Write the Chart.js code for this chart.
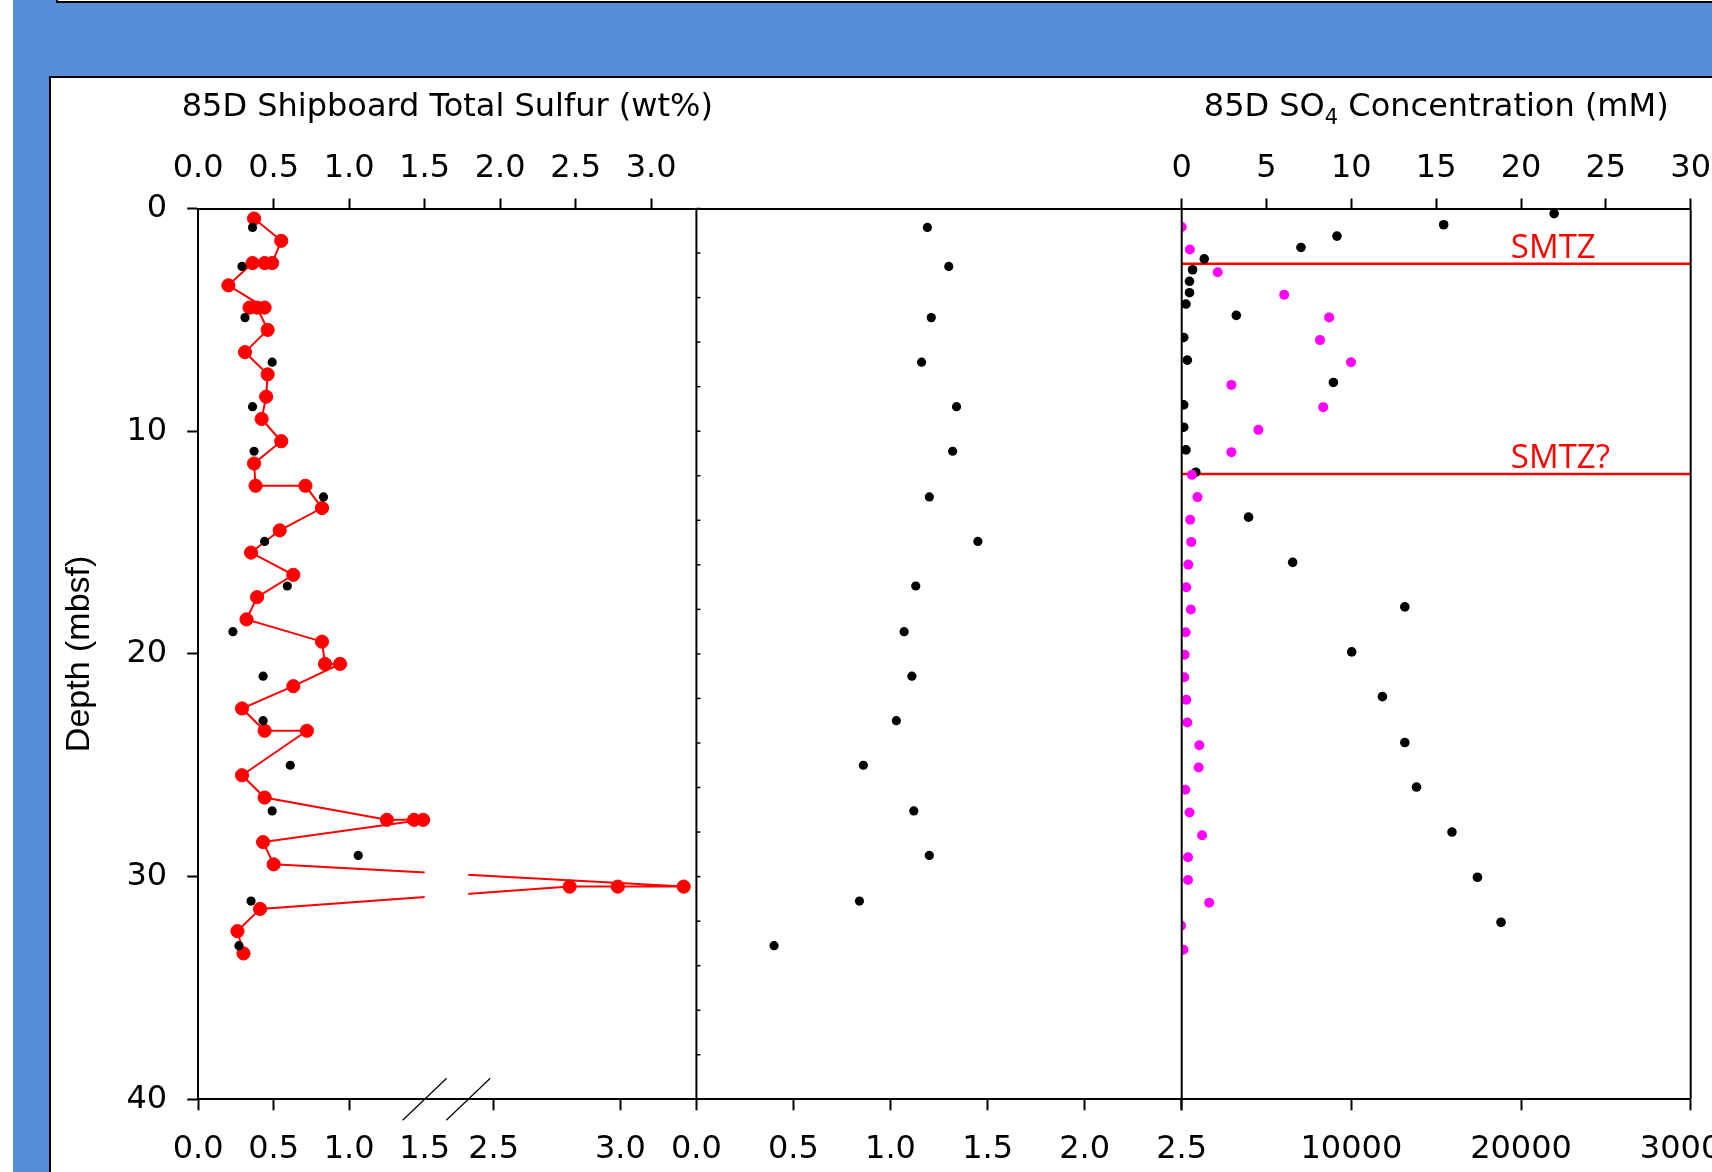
<!DOCTYPE html>
<html>
<head>
<meta charset="utf-8">
<title>85D sulfur and SO4 profiles</title>
<script src="https://cdn.jsdelivr.net/npm/chart.js@4.4.1/dist/chart.umd.min.js"></script>
<style>
  html, body { margin: 0; padding: 0; width: 1712px; height: 1172px; overflow: hidden; background: #578cd7; }
  #strip { position: absolute; left: 0; top: 0; width: 13px; height: 1172px; background: #fff; }
  #topbox { position: absolute; left: 56px; top: -20px; width: 1700px; height: 19px; background: #fff; border: 2px solid #000; }
  #panel { position: absolute; left: 49px; top: 76px; width: 1700px; height: 1200px; background: #fff; border-left: 2px solid #000; border-top: 2px solid #000; }
  #myChart { position: absolute; left: 0; top: 0; }
</style>
</head>
<body>
<div id="strip"></div>
<div id="topbox"></div>
<div id="panel"></div>
<canvas id="myChart" width="1712" height="1172"></canvas>
<script>
// depth of the discrete core samples (panel 1 black dots and panel 2)
const coreDepth = [0.85, 2.6, 4.9, 6.9, 8.9, 10.9, 12.95, 14.95, 16.95, 19.0, 21.0, 23.0, 25.0, 27.05, 29.05, 31.1, 33.1];
const sulfurWt  = [0.36, 0.29, 0.31, 0.49, 0.36, 0.37, 0.83, 0.44, 0.59, 0.23, 0.43, 0.43, 0.61, 0.49, 1.06, 0.35, 0.27];
const middleVal = [1.19, 1.30, 1.21, 1.16, 1.34, 1.32, 1.20, 1.45, 1.13, 1.07, 1.11, 1.03, 0.86, 1.12, 1.20, 0.84, 0.40];

// shipboard total sulfur (red line, broken bottom axis)
const shipDepth = [0.45, 1.45, 2.45, 2.45, 2.45, 3.45, 4.45, 4.45, 4.45, 5.45, 6.45, 7.45, 8.45, 9.45, 10.45, 11.45,
  12.45, 12.45, 13.45, 14.45, 15.45, 16.45, 17.45, 18.45, 19.45, 20.45, 20.45, 21.45, 22.45, 23.45, 23.45,
  25.45, 26.45, 27.45, 27.45, 27.45, 28.45, 29.45, 30.45, 30.45, 30.45, 31.45, 32.45, 33.45];
const shipWt = [0.37, 0.55, 0.49, 0.44, 0.36, 0.20, 0.44, 0.34, 0.39, 0.46, 0.31, 0.46, 0.45, 0.42, 0.55, 0.37,
  0.38, 0.71, 0.82, 0.54, 0.35, 0.63, 0.39, 0.32, 0.82, 0.84, 0.94, 0.63, 0.29, 0.44, 0.72,
  0.29, 0.44, 1.25, 1.43, 1.49, 0.43, 0.50, 3.25, 2.99, 2.80, 0.41, 0.26, 0.30];

// panel 3
const so4Depth = [0.23, 0.73, 1.24, 1.75, 2.26, 2.75, 3.27, 3.78, 4.29, 4.80, 5.79, 6.81, 7.81, 8.82, 9.82, 10.84, 11.84];
const so4mM    = [21.95, 15.44, 9.15, 7.03, 1.33, 0.64, 0.46, 0.46, 0.25, 3.22, 0.12, 0.33, 8.94, 0.12, 0.12, 0.25, 0.83];
const ch4Depth = [13.86, 15.89, 17.89, 19.91, 21.92, 23.98, 25.98, 28.0, 30.03, 32.05];
const ch4Val   = [3940, 6540, 13150, 10020, 11830, 13150, 13840, 15930, 17430, 18820];
const magDepth = [0.83, 1.84, 2.86, 3.87, 4.89, 5.91, 6.90, 7.92, 8.92, 9.94, 10.94, 11.96, 12.96, 13.98, 14.97, 15.99, 17.01,
  18.01, 19.03, 20.04, 21.05, 22.06, 23.08, 24.1, 25.1, 26.1, 27.12, 28.14, 29.13, 30.15, 31.17, 32.2, 33.28];
const magVal   = [0.0, 0.48, 2.12, 6.04, 8.69, 8.15, 9.98, 2.93, 8.34, 4.52, 2.93, 0.60, 0.93, 0.50, 0.56, 0.39, 0.27,
  0.54, 0.23, 0.17, 0.15, 0.27, 0.33, 1.04, 1.0, 0.21, 0.46, 1.2, 0.37, 0.37, 1.62, -0.04, 0.10];

const smtzDepth = [2.48, 11.92];
const smtzLabel = ['SMTZ', 'SMTZ?'];

// tick labels
const depthTicks = [0, 10, 20, 30, 40];
const sulfurTopTicks = [0, 0.5, 1, 1.5, 2, 2.5, 3];
const sulfurBottomTicks = [0, 0.5, 1, 1.5, 2.5, 3];
const middleTicks = [0, 0.5, 1, 1.5, 2, 2.5];
const so4Ticks = [0, 5, 10, 15, 20, 25, 30];
const ch4Ticks = [0, 10000, 20000, 30000];
// title pieces: odd pieces are subscripts
const panelTitles = [['85D Shipboard Total Sulfur (wt%)'], ['85D SO', '4', ' Concentration (mM)']];

const pts = (xs, ys) => xs.map((x, i) => ({x: x, y: ys[i]}));

// linear scale with a gap between breakLow and breakHigh
class BrokenScale extends Chart.LinearScale {
  toFrac(v) {
    const o = this.options;
    const f1 = (o.breakLow - this.min) / (this.max - this.min);
    const f2 = f1 + o.gapFrac;
    if (v <= o.breakLow) return (v - this.min) / (this.max - this.min);
    if (v >= o.breakHigh) return f2 + (v - o.breakHigh) / (this.max - o.breakHigh) * (1 - f2);
    return f1 + (v - o.breakLow) / (o.breakHigh - o.breakLow) * o.gapFrac;
  }
  getPixelForValue(v) {
    return v === null ? NaN : this.getPixelForDecimal(this.toFrac(v));
  }
  getValueForPixel(p) {
    const o = this.options;
    const f = this.getDecimalForPixel(p);
    const f1 = (o.breakLow - this.min) / (this.max - this.min);
    const f2 = f1 + o.gapFrac;
    if (f <= f1) return this.min + f * (this.max - this.min);
    if (f >= f2) return o.breakHigh + (f - f2) / (1 - f2) * (this.max - o.breakHigh);
    return o.breakLow + (f - f1) / o.gapFrac * (o.breakHigh - o.breakLow);
  }
}
BrokenScale.id = 'broken';
BrokenScale.defaults = Chart.LinearScale.defaults;
Chart.register(BrokenScale);

const black = '#000';
const tickFont = {family: 'DejaVu Sans', size: 32};
const TOP_H = 208.5, BOTTOM_H = 72.7;

function setTicks(list) {
  return s => { s.ticks = list.map(v => ({value: v})); };
}
function fitH(h) {
  return s => { s.height = h; s.paddingLeft = 0; s.paddingRight = 0; };
}
function xScale(pos, weight, width, min, max, tickList, fmt, hideAt) {
  return {
    type: 'linear', position: pos, stack: pos, stackWeight: width, weight: weight,
    min: min, max: max,
    afterBuildTicks: setTicks(tickList),
    afterFit: fitH(pos === 'top' ? TOP_H : BOTTOM_H),
    grid: {
      display: true, drawOnChartArea: false, drawTicks: true,
      tickLength: pos === 'top' ? 10 : 11, tickWidth: 2,
      tickColor: c => (c.tick && hideAt !== undefined && c.tick.value === hideAt) ? 'rgba(0,0,0,0)' : black
    },
    border: {display: true, color: black, width: 2},
    ticks: {
      font: tickFont, color: black, padding: pos === 'top' ? 10.8 : 20,
      maxRotation: 0, minRotation: 0, autoSkip: false, callback: fmt
    }
  };
}

const oneDec = v => v.toFixed(1);
const scales = {
  y: {
    type: 'linear', position: 'left', reverse: true, min: 0, max: 40,
    afterBuildTicks: setTicks(depthTicks),
    afterFit: s => { s.width = 198.2; },
    grid: {display: true, drawOnChartArea: false, tickLength: 11, tickWidth: 2, tickColor: black},
    border: {display: true, color: black, width: 2},
    ticks: {font: tickFont, color: black, padding: 20},
    title: {display: true, text: 'Depth (mbsf)', color: black,
      font: {family: 'Liberation Sans', size: 34}, padding: {top: 59, bottom: 0}}
  },
  x1t: xScale('top', 3, 498.2, 0, 3.3, sulfurTopTicks, oneDec, 0),
  x2t: {
    type: 'linear', position: 'top', stack: 'top', stackWeight: 485.3, weight: 2, min: 0, max: 2.5,
    afterFit: fitH(TOP_H),
    grid: {display: false}, ticks: {display: false},
    border: {display: true, color: black, width: 2}
  },
  x3t: xScale('top', 1, 509, 0, 30, so4Ticks, v => String(v)),
  x1b: Object.assign(xScale('bottom', 1, 498.2, 0, 3.3, sulfurBottomTicks, oneDec, 1.5),
    {type: 'broken', breakLow: 1.5, breakHigh: 2.4, gapFrac: 0.0875}),
  x2b: xScale('bottom', 2, 485.3, 0, 2.5, middleTicks, oneDec),
  x3b: xScale('bottom', 3, 509, 0, 30000, ch4Ticks, v => v === 0 ? '' : String(v))
};

const datasets = [
  {label: 'Shipboard total sulfur', data: pts(shipWt, shipDepth), xAxisID: 'x1b', yAxisID: 'y',
    showLine: true, borderColor: '#ff0000', borderWidth: 2, pointRadius: 0, order: 6, breakGap: true},
  {label: 'Shipboard total sulfur points', data: pts(shipWt, shipDepth), xAxisID: 'x1b', yAxisID: 'y',
    pointRadius: 6.6, pointBackgroundColor: '#ff0000', pointBorderColor: '#ff0000', pointBorderWidth: 1, order: 5},
  {label: 'Total sulfur', data: pts(sulfurWt, coreDepth), xAxisID: 'x1t', yAxisID: 'y',
    pointRadius: 4.6, pointBackgroundColor: black, pointBorderWidth: 0, order: 4},
  {label: 'Panel 2', data: pts(middleVal, coreDepth), xAxisID: 'x2b', yAxisID: 'y',
    pointRadius: 4.6, pointBackgroundColor: black, pointBorderWidth: 0, order: 4},
  {label: 'SO4', data: pts(so4mM, so4Depth), xAxisID: 'x3t', yAxisID: 'y',
    pointRadius: 4.8, pointBackgroundColor: black, pointBorderWidth: 0, order: 3},
  {label: 'CH4', data: pts(ch4Val, ch4Depth), xAxisID: 'x3b', yAxisID: 'y',
    pointRadius: 4.8, pointBackgroundColor: black, pointBorderWidth: 0, order: 3},
  {label: 'Magenta profile', data: pts(magVal, magDepth), xAxisID: 'x3t', yAxisID: 'y',
    pointRadius: 5, pointBackgroundColor: '#ff00ff', pointBorderWidth: 0, order: 2}
];
smtzDepth.forEach((d, i) => {
  datasets.push({label: smtzLabel[i], data: [{x: so4Ticks[0], y: d}, {x: so4Ticks[so4Ticks.length - 1], y: d}],
    xAxisID: 'x3t', yAxisID: 'y', showLine: true, borderColor: '#ff0000', borderWidth: 2.5, pointRadius: 0, order: 6});
});

function drawTitle(ctx, parts, cx, baseY) {
  const mainFont = '32px "DejaVu Sans"', subFont = '21px "DejaVu Sans"';
  let total = 0;
  parts.forEach((p, i) => { ctx.font = i % 2 ? subFont : mainFont; total += ctx.measureText(p).width; });
  let x = cx - total / 2;
  parts.forEach((p, i) => {
    ctx.font = i % 2 ? subFont : mainFont;
    ctx.fillText(p, x, i % 2 ? baseY + 8 : baseY);
    x += ctx.measureText(p).width;
  });
}

const decorations = {
  id: 'decorations',
  afterDatasetDraw(chart, args) {
    if (!chart.data.datasets[args.index].breakGap) return;
    const s = chart.scales.x1b, a = chart.chartArea, ctx = chart.ctx;
    const l = s.getPixelForValue(s.options.breakLow), r = s.getPixelForValue(s.options.breakHigh);
    ctx.save();
    ctx.fillStyle = '#fff';
    ctx.fillRect(l, a.top + 2, r - l, a.bottom - a.top - 4);
    ctx.restore();
  },
  afterDraw(chart) {
    const ctx = chart.ctx, a = chart.chartArea, sc = chart.scales;
    ctx.save();
    // panel frames
    ctx.strokeStyle = black;
    ctx.lineWidth = 2;
    [sc.x1b.right, sc.x2b.right, sc.x3b.right].forEach(x => {
      ctx.beginPath(); ctx.moveTo(x, a.top); ctx.lineTo(x, a.bottom); ctx.stroke();
    });
    // small ticks on the left side of panel 2
    ctx.lineWidth = 1.5;
    for (let d = 0; d <= 40; d += 2) {
      const yy = sc.y.getPixelForValue(d);
      ctx.beginPath(); ctx.moveTo(sc.x1b.right, yy); ctx.lineTo(sc.x1b.right + 4, yy); ctx.stroke();
    }
    // axis break marks
    ctx.lineWidth = 1.2;
    [sc.x1b.options.breakLow, sc.x1b.options.breakHigh].forEach(v => {
      const px = sc.x1b.getPixelForValue(v);
      ctx.beginPath(); ctx.moveTo(px - 22, a.bottom + 21); ctx.lineTo(px + 22, a.bottom - 21); ctx.stroke();
    });
    // panel titles
    ctx.fillStyle = black;
    ctx.textAlign = 'left';
    ctx.textBaseline = 'alphabetic';
    drawTitle(ctx, panelTitles[0], (sc.x1t.left + sc.x1t.right) / 2, a.top - 92.5);
    drawTitle(ctx, panelTitles[1], (sc.x3t.left + sc.x3t.right) / 2, a.top - 92.5);
    // SMTZ labels
    ctx.fillStyle = '#ff0000';
    ctx.font = '33px "Open Sans"';
    smtzDepth.forEach((d, i) => {
      ctx.fillText(smtzLabel[i], sc.x3t.getPixelForValue(19.4), sc.y.getPixelForValue(d) - 6);
    });
    ctx.restore();
  }
};

const ctx = document.getElementById('myChart').getContext('2d');
const myChart = new Chart(ctx, {
  type: 'scatter',
  data: {datasets: datasets},
  options: {
    responsive: false,
    devicePixelRatio: 1,
    animation: false,
    events: [],
    layout: {padding: {left: 0, top: 0, right: 21.3, bottom: 0}},
    plugins: {legend: {display: false}, tooltip: {enabled: false}},
    scales: scales
  },
  plugins: [decorations]
});
</script>
</body>
</html>
